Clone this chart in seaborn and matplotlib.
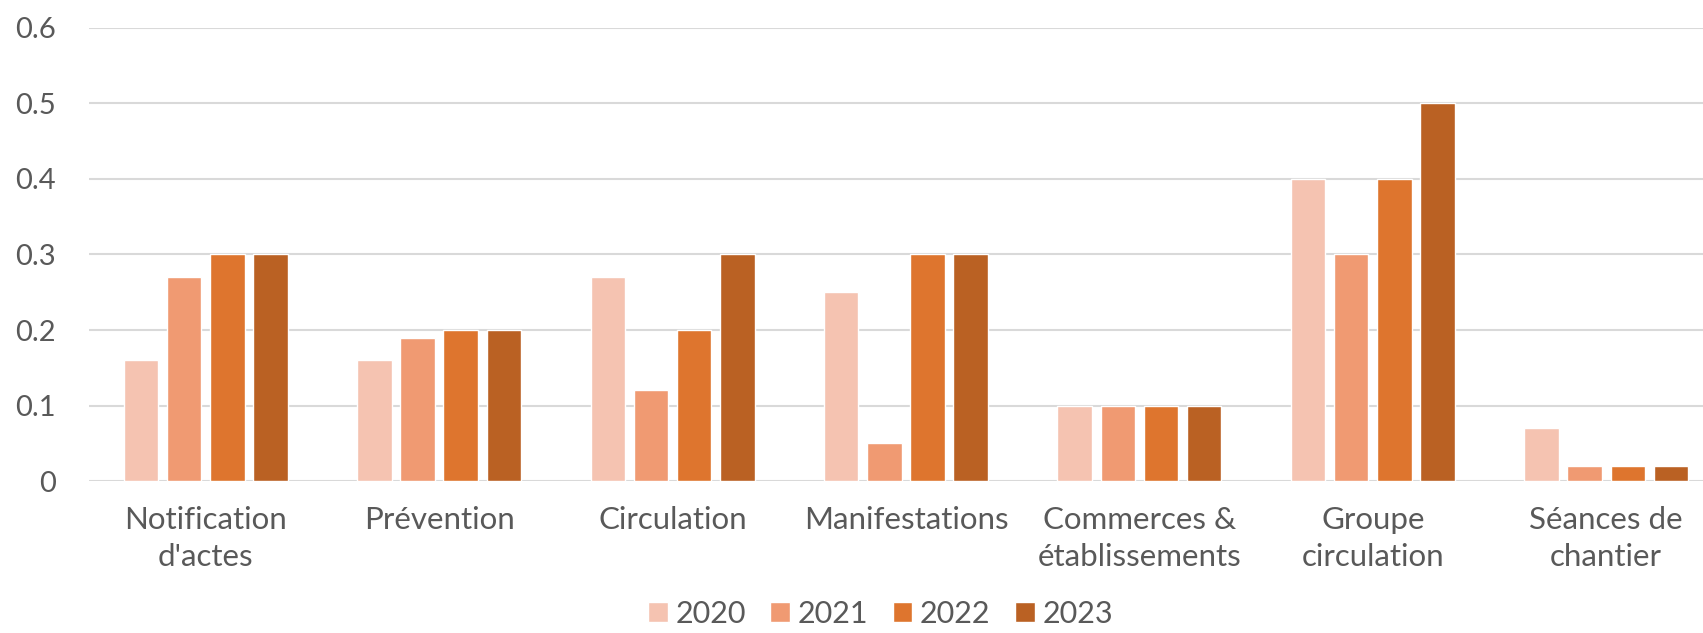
import matplotlib
matplotlib.use("Agg")
import matplotlib.pyplot as plt
import seaborn as sns
import pandas as pd
from matplotlib.patches import Patch
from matplotlib.ticker import FuncFormatter

categories = ["Notification\nd'actes", "Prévention", "Circulation", "Manifestations",
              "Commerces &\nétablissements", "Groupe\ncirculation", "Séances de\nchantier"]
years = ["2020", "2021", "2022", "2023"]
v2020 = [0.16, 0.16, 0.27, 0.25, 0.10, 0.40, 0.07]
v2021 = [0.27, 0.19, 0.12, 0.05, 0.10, 0.30, 0.02]
v2022 = [0.30, 0.20, 0.20, 0.30, 0.10, 0.40, 0.02]
v2023 = [0.30, 0.20, 0.30, 0.30, 0.10, 0.50, 0.02]
colors = ["#F5C3B1", "#F09A72", "#DE752E", "#BA6123"]

rows = []
for y, vals in zip(years, [v2020, v2021, v2022, v2023]):
    for c, v in zip(categories, vals):
        rows.append({"cat": c, "year": y, "val": v})
df = pd.DataFrame(rows)

sns.set_theme(style="white")
plt.rcParams['font.family'] = ['Lato', 'DejaVu Sans']

fig = plt.figure(figsize=(17.03, 6.33), dpi=100)
ax = fig.add_axes([0.0523, 0.2401, 0.9594, 0.7157])
sns.barplot(data=df, x="cat", y="val", hue="year", palette=colors, order=categories,
            hue_order=years, width=0.74, gap=0.2, ax=ax, legend=False, errorbar=None,
            saturation=1, zorder=3)
ax.set_ylim(0, 0.6)
ax.set_yticks([0, 0.1, 0.2, 0.3, 0.4, 0.5, 0.6])
ax.yaxis.set_major_formatter(FuncFormatter(lambda v, p: "0" if abs(v) < 1e-9 else f"{v:.1f}"))
ax.set_xlim(-0.5, len(categories) - 0.5)
ax.grid(axis="y", color="#D9D9D9", linewidth=1.5, zorder=0)
ax.set_axisbelow(True)
for s in ax.spines.values():
    s.set_visible(False)
ax.set_xlabel("")
ax.set_ylabel("")
ax.tick_params(axis="y", colors="#595959", labelsize=21, length=0, pad=24)
ax.tick_params(axis="x", colors="#595959", labelsize=22.5, length=0, pad=18)
for t in ax.get_xticklabels():
    t.set_linespacing(1.4)

handles = [Patch(facecolor=c, label=y) for c, y in zip(colors, years)]
fig.legend(handles=handles, loc="lower center", bbox_to_anchor=(0.517, -0.035), ncol=4,
           frameon=False, fontsize=22, handlelength=0.65, handleheight=0.65,
           handletextpad=0.25, columnspacing=0.8, labelcolor="#595959")
fig.savefig("out.png", dpi=100)
